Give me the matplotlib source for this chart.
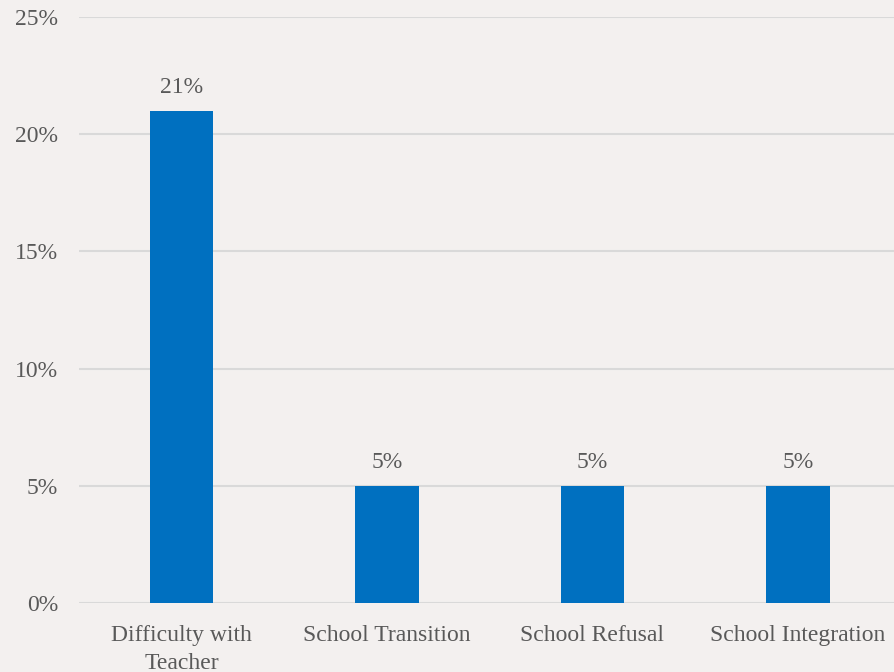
import matplotlib
matplotlib.use("Agg")
import matplotlib.pyplot as plt
from matplotlib.ticker import FuncFormatter

categories = ["Difficulty with\nTeacher", "School Transition", "School Refusal", "School Integration"]
values = [21, 5, 5, 5]
yticks = [0, 5, 10, 15, 20, 25]

bg = "#F3F0EF"
bar_color = "#0070C0"
text_color = "#595959"
grid_color = "#D9D9D9"

plt.rcParams['font.family'] = ['Liberation Serif', 'DejaVu Serif']

fig = plt.figure(figsize=(8.95, 6.72), dpi=100, facecolor=bg)
ax = fig.add_axes([0.088, 0.1027, 0.9184, 0.872])
ax.set_facecolor(bg)

x = list(range(len(categories)))
bars = ax.bar(x, values, width=0.31, color=bar_color, zorder=3)
for xi, v in zip(x, values):
    ax.text(xi, v + 0.55, f"{v}%", ha="center", va="bottom", fontsize=17, color=text_color)

ax.set_xlim(-0.5, len(categories) - 0.5)
ax.set_ylim(0, 25)
ax.set_yticks(yticks)
ax.yaxis.set_major_formatter(FuncFormatter(lambda v, p: f"{v:.0f}%"))
ax.grid(axis="y", color=grid_color, linewidth=1.5, zorder=0)
ax.set_xticks(x)
ax.set_xticklabels(categories, fontsize=17, color=text_color, linespacing=1.4)
ax.tick_params(axis="y", labelsize=17, labelcolor=text_color, length=0, pad=15)
ax.tick_params(axis="x", length=0, pad=16)
for s in ax.spines.values():
    s.set_visible(False)

fig.savefig("out.png", dpi=100, facecolor=bg)
